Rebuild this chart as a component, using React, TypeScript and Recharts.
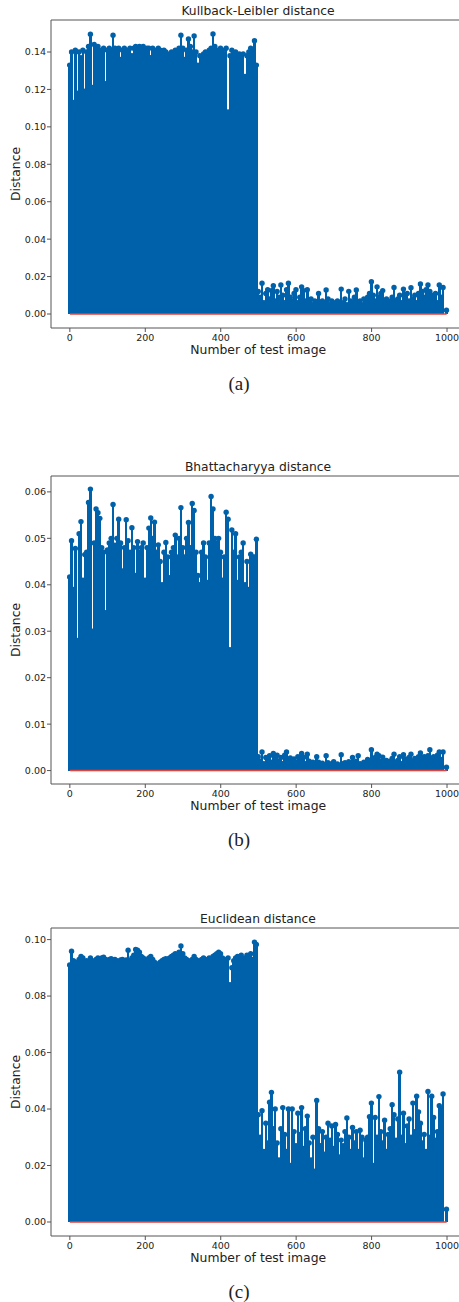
import React from 'react';
import { ComposedChart, Bar, XAxis, YAxis, ReferenceLine, Label } from 'recharts';

const STEM = '#0061ab';
const BASE = '#e8403a';
const SPINE = '#555';

// test image numbers (every 5th image, plus the last one)
const imageNumbers = [...Array(199).keys()].map((i) => i * 5).concat(999);

const xTicks = [0, 200, 400, 600, 800, 1000];

// (a) Kullback-Leibler distance
const klValues = [
  0.133, 0.140, 0.113, 0.141, 0.118, 0.140, 0.137, 0.141, 0.119, 0.140,
  0.143, 0.1495, 0.121, 0.144, 0.142, 0.143, 0.141, 0.139, 0.142, 0.123,
  0.141, 0.142, 0.141, 0.149, 0.142, 0.141, 0.142, 0.136, 0.141, 0.142,
  0.140, 0.141, 0.142, 0.138, 0.142, 0.143, 0.141, 0.143, 0.142, 0.143,
  0.141, 0.142, 0.142, 0.137, 0.142, 0.141, 0.140, 0.142, 0.141, 0.139,
  0.141, 0.140, 0.138, 0.139, 0.140, 0.139, 0.141, 0.140, 0.142, 0.149,
  0.142, 0.136, 0.141, 0.147, 0.143, 0.140, 0.1486, 0.140, 0.133, 0.138,
  0.137, 0.139, 0.140, 0.138, 0.141, 0.142, 0.1496, 0.143, 0.141, 0.140,
  0.142, 0.141, 0.139, 0.142, 0.108, 0.138, 0.141, 0.139, 0.140, 0.138,
  0.139, 0.137, 0.139, 0.127, 0.138, 0.140, 0.142, 0.141, 0.146, 0.133,
  0.012, 0.009, 0.0164, 0.006, 0.011, 0.013, 0.008, 0.0125, 0.0151, 0.007,
  0.012, 0.009, 0.0155, 0.010, 0.006, 0.013, 0.0164, 0.009, 0.007, 0.011,
  0.013, 0.006, 0.009, 0.0145, 0.0125, 0.007, 0.013, 0.006, 0.008, 0.005,
  0.007, 0.006, 0.011, 0.005, 0.007, 0.006, 0.0128, 0.008, 0.005, 0.007,
  0.006, 0.005, 0.007, 0.006, 0.0133, 0.006, 0.008, 0.005, 0.0121, 0.007,
  0.006, 0.009, 0.0128, 0.006, 0.007, 0.005, 0.008, 0.006, 0.009, 0.011,
  0.0173, 0.010, 0.007, 0.0145, 0.009, 0.011, 0.0125, 0.006, 0.008, 0.005,
  0.007, 0.009, 0.0142, 0.007, 0.008, 0.010, 0.006, 0.0133, 0.009, 0.011,
  0.007, 0.014, 0.008, 0.010, 0.006, 0.011, 0.016, 0.012, 0.009, 0.013,
  0.0155, 0.012, 0.010, 0.008, 0.011, 0.006, 0.0155, 0.009, 0.0142, 0.002,
];

// (b) Bhattacharyya distance
const bhValues = [
  0.0417, 0.0495, 0.0390, 0.0478, 0.0280, 0.0510, 0.0536, 0.0410, 0.0465, 0.0470,
  0.0577, 0.0606, 0.0300, 0.0490, 0.0563, 0.0555, 0.0543, 0.0480, 0.0470, 0.0340,
  0.0475, 0.0490, 0.0500, 0.0573, 0.0485, 0.0500, 0.0541, 0.0490, 0.0430, 0.0480,
  0.0540, 0.0495, 0.0470, 0.0523, 0.0480, 0.0420, 0.0493, 0.0470, 0.0480, 0.0490,
  0.0410, 0.0480, 0.0522, 0.0544, 0.0500, 0.0535, 0.0470, 0.0486, 0.0450, 0.0400,
  0.0470, 0.0491, 0.0460, 0.0415, 0.0470, 0.0480, 0.0507, 0.0460, 0.0500, 0.0566,
  0.0480, 0.0460, 0.0500, 0.0534, 0.0480, 0.0575, 0.0560, 0.0470, 0.0420, 0.0400,
  0.0470, 0.0490, 0.0460, 0.0405, 0.0490, 0.0590, 0.0563, 0.0500, 0.0490, 0.0500,
  0.0470, 0.0410, 0.0460, 0.0556, 0.0541, 0.0260, 0.0518, 0.0470, 0.0510, 0.0405,
  0.0460, 0.0470, 0.0490, 0.0400, 0.0450, 0.0390, 0.0466, 0.0460, 0.0460, 0.0498,
  0.0030, 0.0020, 0.0040, 0.0015, 0.0028, 0.0022, 0.0032, 0.0018, 0.0037, 0.0025,
  0.0033, 0.0020, 0.0028, 0.0015, 0.0033, 0.0040, 0.0020, 0.0027, 0.0016, 0.0025,
  0.0018, 0.0030, 0.0022, 0.0037, 0.0028, 0.0015, 0.0035, 0.0020, 0.0014, 0.0018,
  0.0012, 0.0030, 0.0018, 0.0013, 0.0016, 0.0012, 0.0032, 0.0017, 0.0012, 0.0015,
  0.0019, 0.0012, 0.0014, 0.0011, 0.0034, 0.0015, 0.0017, 0.0012, 0.0019, 0.0014,
  0.0028, 0.0016, 0.0020, 0.0032, 0.0015, 0.0012, 0.0018, 0.0014, 0.0024, 0.0020,
  0.0045, 0.0022, 0.0028, 0.0035, 0.0032, 0.0020, 0.0029, 0.0016, 0.0022, 0.0015,
  0.0020, 0.0026, 0.0035, 0.0018, 0.0022, 0.0030, 0.0015, 0.0034, 0.0025, 0.0020,
  0.0028, 0.0035, 0.0020, 0.0026, 0.0022, 0.0030, 0.0038, 0.0025, 0.0030, 0.0022,
  0.0032, 0.0045, 0.0026, 0.0030, 0.0022, 0.0033, 0.0040, 0.0024, 0.0040, 0.0007,
];

// (c) Euclidean distance
const euValues = [
  0.0910, 0.0959, 0.0925, 0.0920, 0.0915, 0.0930, 0.0940, 0.0935, 0.0920, 0.0925,
  0.0915, 0.0935, 0.0925, 0.0920, 0.0930, 0.0935, 0.0925, 0.0935, 0.0938, 0.0930,
  0.0925, 0.0930, 0.0932, 0.0928, 0.0930, 0.0925, 0.0920, 0.0928, 0.0930, 0.0925,
  0.0928, 0.0962, 0.0925, 0.0935, 0.0945, 0.0965, 0.0962, 0.0955, 0.0940, 0.0935,
  0.0930, 0.0925, 0.0935, 0.0940, 0.0930, 0.0920, 0.0915, 0.0910, 0.0920, 0.0925,
  0.0930, 0.0932, 0.0930, 0.0935, 0.0940, 0.0945, 0.0950, 0.0945, 0.0955, 0.0977,
  0.0950, 0.0935, 0.0930, 0.0925, 0.0920, 0.0930, 0.0940, 0.0930, 0.0925, 0.0920,
  0.0930, 0.0935, 0.0930, 0.0925, 0.0935, 0.0930, 0.0940, 0.0945, 0.0950, 0.0955,
  0.0950, 0.0935, 0.0930, 0.0925, 0.0935, 0.0840, 0.0900, 0.0925, 0.0935, 0.0940,
  0.0935, 0.0945, 0.0930, 0.0935, 0.0945, 0.0940, 0.0950, 0.0930, 0.0991, 0.0983,
  0.0380, 0.0300, 0.0394, 0.0250, 0.0350, 0.0280, 0.0424, 0.0459, 0.0330, 0.0400,
  0.0280, 0.0220, 0.0330, 0.0405, 0.0310, 0.0250, 0.0400, 0.0200, 0.0400, 0.0320,
  0.0270, 0.0385, 0.0310, 0.0405, 0.0260, 0.0330, 0.0375, 0.0280, 0.0220, 0.0300,
  0.0180, 0.0430, 0.0330, 0.0270, 0.0320, 0.0240, 0.0300, 0.0350, 0.0290, 0.0340,
  0.0260, 0.0345, 0.0310, 0.0230, 0.0290, 0.0270, 0.0320, 0.0368, 0.0300, 0.0250,
  0.0335, 0.0280, 0.0320, 0.0250, 0.0325, 0.0300, 0.0220, 0.0290, 0.0300, 0.0373,
  0.0421, 0.0200, 0.0370, 0.0300, 0.0444, 0.0320, 0.0280, 0.0360, 0.0250, 0.0310,
  0.0330, 0.0415, 0.0380, 0.0290, 0.0365, 0.0530, 0.0300, 0.0385, 0.0270, 0.0340,
  0.0365, 0.0300, 0.0421, 0.0320, 0.0445, 0.0390, 0.0350, 0.0280, 0.0310, 0.0250,
  0.0462, 0.0300, 0.0445, 0.0370, 0.0290, 0.0320, 0.0412, 0.0400, 0.0453, 0.0045,
];

const klTicks = [0, 0.02, 0.04, 0.06, 0.08, 0.1, 0.12, 0.14];
const bhTicks = [0, 0.01, 0.02, 0.03, 0.04, 0.05, 0.06];
const euTicks = [0, 0.02, 0.04, 0.06, 0.08, 0.1];

// stem: line down to the baseline with a dot on top
const StemShape = (props: any) => {
  const { x, y, width, height } = props;
  if (x == null || y == null) return null;
  const cx = x + width / 2;
  return (
    <g>
      <rect x={cx - 1.25} y={y} width={2.5} height={Math.max(height, 0)} fill={STEM} shapeRendering="crispEdges" />
      <circle cx={cx} cy={y} r={2.7} fill={STEM} />
    </g>
  );
};

interface PanelProps {
  title: string;
  caption: string;
  values: number[];
  yDomain: [number, number];
  yTicks: number[];
  top: number;
}

const StemPanel = ({ title, caption, values, yDomain, yTicks, top }: PanelProps) => {
  const data = imageNumbers.map((n, i) => ({ n, d: values[i] }));
  return (
    <div style={{ position: 'absolute', left: 0, top, width: 480, height: 400 }}>
      <div
        style={{
          position: 'absolute', left: 51, width: 414, top: 4, textAlign: 'center',
          fontSize: 12.3, color: '#222', whiteSpace: 'nowrap',
        }}
      >
        {title}
      </div>
      <ComposedChart
        width={480}
        height={365}
        data={data}
        margin={{ top: 20, right: 14.5, bottom: 0, left: 0 }}
      >
        <XAxis
          dataKey="n"
          type="number"
          domain={[-50, 1049]}
          ticks={xTicks}
          allowDataOverflow
          height={37}
          tickSize={4}
          tickMargin={2}
          stroke={SPINE}
          tick={{ fontSize: 9.5, fill: '#222' }}
        >
          <Label value="Number of test image" position="insideBottom" offset={11.5} fontSize={12.4} fill="#222" />
        </XAxis>
        <YAxis
          type="number"
          domain={yDomain}
          ticks={yTicks}
          allowDataOverflow
          width={51}
          tickSize={4}
          tickMargin={1}
          stroke={SPINE}
          tick={{ fontSize: 9.5, fill: '#222' }}
          tickFormatter={(v: number) => v.toFixed(2)}
        >
          <Label value="Distance" angle={-90} position="insideLeft" offset={15.5} fontSize={12.4} fill="#222" style={{ textAnchor: 'middle' }} />
        </YAxis>
        <Bar dataKey="d" barSize={1.5} shape={<StemShape />} isAnimationActive={false} />
        <ReferenceLine y={yDomain[1]} stroke={SPINE} />
        <ReferenceLine segment={[{ x: 0, y: 0 }, { x: 999, y: 0 }]} stroke={BASE} strokeWidth={1.5} />
      </ComposedChart>
      <div
        style={{
          position: 'absolute', left: 189, width: 100, top: 373, textAlign: 'center',
          fontFamily: '"Liberation Serif", serif', fontSize: 19, color: '#222',
        }}
      >
        {caption}
      </div>
    </div>
  );
};

export default function App() {
  return (
    <div
      style={{
        position: 'absolute', left: 0, top: 0, width: 459, height: 1302, overflow: 'hidden',
        background: '#fff', fontFamily: '"DejaVu Sans", sans-serif',
      }}
    >
      <StemPanel title="Kullback-Leibler distance" caption="(a)" values={klValues} yDomain={[-0.00748, 0.1571]} yTicks={klTicks} top={0} />
      <StemPanel title="Bhattacharyya distance" caption="(b)" values={bhValues} yDomain={[-0.00289, 0.06342]} yTicks={bhTicks} top={456} />
      <StemPanel title="Euclidean distance" caption="(c)" values={euValues} yDomain={[-0.00496, 0.1041]} yTicks={euTicks} top={908} />
    </div>
  );
}
